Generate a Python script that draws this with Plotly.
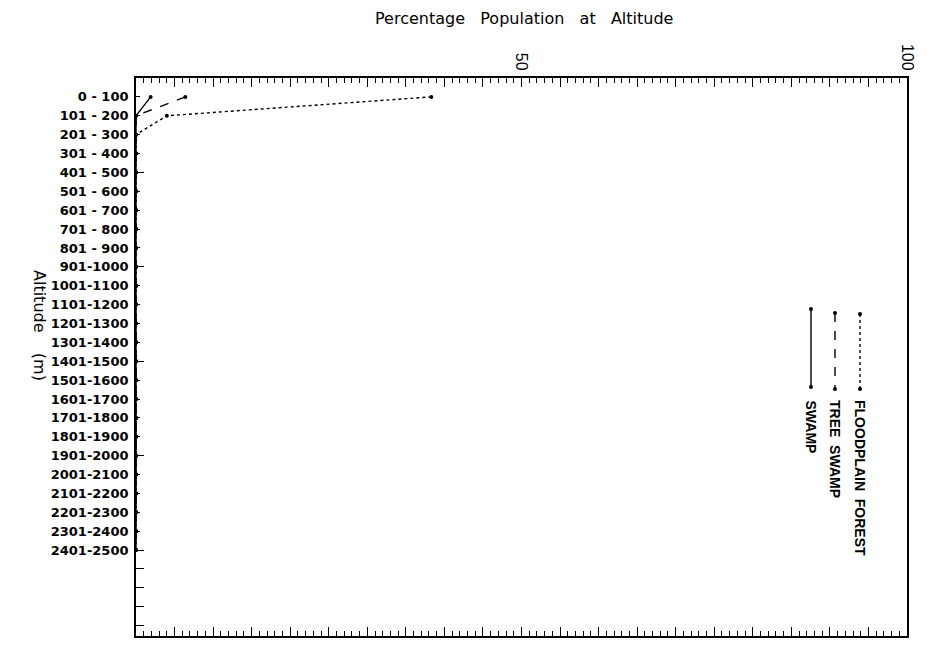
import plotly.graph_objects as go

altitude_labels = [
    "0 - 100", "101 - 200", "201 - 300", "301 - 400", "401 - 500",
    "501 - 600", "601 - 700", "701 - 800", "801 - 900", "901-1000",
    "1001-1100", "1101-1200", "1201-1300", "1301-1400", "1401-1500",
    "1501-1600", "1601-1700", "1701-1800", "1801-1900", "1901-2000",
    "2001-2100", "2101-2200", "2201-2300", "2301-2400", "2401-2500",
]
floodplain_forest = [38.3, 4.0] + [0] * 23
tree_swamp = [6.4, 0] + [0] * 23
swamp = [1.9, 0] + [0] * 23

x_tick_vals = list(range(0, 101, 5))
x_tick_text = ["50" if v == 50 else ("100" if v == 100 else "") for v in x_tick_vals]
long_y_ticks = [4, 9, 14, 19, 24, 25, 26, 27, 28]

# page body adds an 8px offset; compensate
OFF = 8
W, H = 927 - OFF, 652 - OFF
L, R, T, B = 136 - OFF, 20, 78 - OFF, 16
pw, ph = W - L - R, H - T - B


def px(xp):
    return (xp - OFF - L) / pw


def py(yp):
    return (H - B - (yp - OFF)) / ph


fig = go.Figure()
series = [
    ("FLOODPLAIN FOREST", floodplain_forest, "dot"),
    ("TREE SWAMP", tree_swamp, "dash"),
    ("SWAMP", swamp, "solid"),
]
for name, vals, dash in series:
    fig.add_trace(go.Scatter(
        x=vals, y=altitude_labels, name=name, mode="lines+markers",
        line=dict(color="black", width=1.4, dash=dash),
        marker=dict(color="black", size=4),
        cliponaxis=False, showlegend=False,
    ))
fig.add_trace(go.Scatter(x=[], y=[], yaxis="y2", showlegend=False))
fig.add_trace(go.Scatter(x=[], y=[], xaxis="x2", showlegend=False))

fig.update_layout(
    width=W, height=H,
    margin=dict(l=L, r=R, t=T, b=B, autoexpand=False),
    paper_bgcolor="white", plot_bgcolor="white",
    font=dict(family="DejaVu Sans", color="black"),
    xaxis=dict(
        side="top", range=[0, 100], showgrid=False, zeroline=False,
        showline=True, linecolor="black", linewidth=1.6, mirror="ticks",
        tickmode="linear", tick0=0, dtick=1, showticklabels=False,
        ticks="inside", ticklen=5, tickwidth=1, tickcolor="black",
        automargin=False,
    ),
    xaxis2=dict(
        overlaying="x", anchor="y", side="top", range=[0, 100],
        showgrid=False, zeroline=False,
        showline=True, linecolor="black", linewidth=1.6, mirror="ticks",
        tickmode="array", tickvals=x_tick_vals, ticktext=x_tick_text,
        ticks="inside", ticklen=9, tickwidth=1.3, tickcolor="black",
        tickangle=90, tickfont=dict(family="Liberation Sans", size=16),
        automargin=False,
    ),
    yaxis=dict(
        type="category", categoryorder="array", categoryarray=altitude_labels,
        range=[28.55, -1.0], showgrid=False, zeroline=False,
        showline=True, linecolor="black", linewidth=1.8, mirror=True,
        ticks="inside", ticklen=4, tickwidth=1.3, tickcolor="black",
        tickfont=dict(family="DejaVu Sans", size=13, weight="bold"),
        ticklabelstandoff=3, automargin=False,
    ),
    yaxis2=dict(
        overlaying="y", anchor="x", side="left", range=[28.55, -1.0],
        showgrid=False, zeroline=False, showline=False,
        tickmode="array", tickvals=long_y_ticks, showticklabels=False,
        ticks="inside", ticklen=8, tickwidth=1.3, tickcolor="black",
        automargin=False,
    ),
)

nb = "\u00a0"
annotations = [
    dict(text=f"Percentage{nb*3}Population{nb*3}at{nb*3}Altitude",
         x=px(524), y=py(18), xref="paper", yref="paper",
         showarrow=False, xanchor="center", yanchor="middle",
         font=dict(family="DejaVu Sans", size=16)),
    dict(text=f"Altitude{nb*4}(m)", textangle=90,
         x=px(40), y=py(325), xref="paper", yref="paper",
         showarrow=False, xanchor="center", yanchor="middle",
         font=dict(family="DejaVu Sans", size=16)),
]

legend_items = [
    ("FLOODPLAIN FOREST", 860, 314, 389, "dot"),
    ("TREE SWAMP", 835, 313, 389, "dash"),
    ("SWAMP", 811, 309, 387, "solid"),
]
shapes = []
for name, lx, y0, y1, dash in legend_items:
    shapes.append(dict(type="line", xref="paper", yref="paper",
                       x0=px(lx), x1=px(lx), y0=py(y0), y1=py(y1),
                       line=dict(color="black", width=1.4, dash=dash)))
    for yy in (y0, y1):
        shapes.append(dict(type="circle", xref="paper", yref="paper",
                           x0=px(lx - 2), x1=px(lx + 2),
                           y0=py(yy + 2), y1=py(yy - 2),
                           fillcolor="black", line=dict(color="black", width=0)))
    annotations.append(dict(
        text=name.replace(" ", nb * 2), textangle=90,
        x=px(lx), y=py(398), xref="paper", yref="paper",
        showarrow=False, xanchor="center", yanchor="top",
        font=dict(family="Liberation Sans", size=14, weight="bold"),
    ))

fig.update_layout(annotations=annotations, shapes=shapes)
fig.write_html("out.html")
